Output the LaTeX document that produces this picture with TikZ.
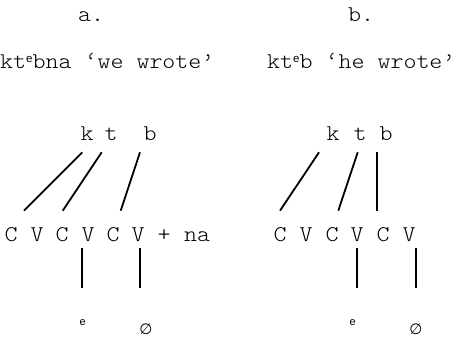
\documentclass[tikz,border=0pt]{standalone}
\usepackage{fontspec}
\newfontfamily\mono[FakeStretch=1.1]{lmmonolt10-regular.otf}
\newfontfamily\sansf{Liberation Sans}
\newfontfamily\dejavu{DejaVu Sans}
\newcommand{\supe}{{\sansf\fontsize{11.5}{13}\selectfont\raisebox{6pt}{e}}}
\begin{document}
\begin{tikzpicture}[x=1pt,y=-1pt,
  txt/.style={font=\mono\fontsize{22.5}{26}\selectfont, inner sep=0pt, anchor=base},
  small/.style={font=\sansf\fontsize{11}{13}\selectfont, inner sep=0pt, anchor=base},
  nul/.style={font=\dejavu\fontsize{15}{17}\selectfont, inner sep=0pt, anchor=base},
  link/.style={line width=1.8pt}]
\useasboundingbox (0,0) rectangle (458,338);
% headings
\node[txt] (la) at (91,21) {a.};
\node[txt] (lb) at (361,21) {b.};
\node[txt, anchor=base west] (ga) at (0,68.3) {kt\supe bna ‘we wrote’};
\node[txt, anchor=base west] (gb) at (267,68.3) {kt\supe b ‘he wrote’};
% roots
\node[txt] (ka) at (87,140.7) {k};
\node[txt] (ta) at (111,140.7) {t};
\node[txt] (ba) at (150,140.7) {b};
\node[txt] (kb) at (333,140.7) {k};
\node[txt] (tb) at (360,140.7) {t};
\node[txt] (bb) at (386,140.7) {b};
% skeleton a
\node[txt] (a1) at (11,241) {C};
\node[txt] (a2) at (37,241) {V};
\node[txt] (a3) at (62,241) {C};
\node[txt] (a4) at (88,241) {V};
\node[txt] (a5) at (113,241) {C};
\node[txt] (a6) at (138,241) {V};
\node[txt] (ap) at (164,241) {+};
\node[txt] (an) at (197,241) {na};
% skeleton b
\node[txt] (b1) at (280,241) {C};
\node[txt] (b2) at (306,241) {V};
\node[txt] (b3) at (332,241) {C};
\node[txt] (b4) at (357,241) {V};
\node[txt] (b5) at (383,241) {C};
\node[txt] (b6) at (409,241) {V};
% melody
\node[small] (ea) at (82.7,325.7) {e};
\node[nul] (za) at (146,334) {∅};
\node[small] (eb) at (352.7,325.7) {e};
\node[nul] (zb) at (416,334) {∅};
% association line ends
\coordinate (ka1) at (82.3,152.3); \coordinate (ka2) at (24,210.7);
\coordinate (ta1) at (101.7,152.3); \coordinate (ta2) at (62.7,210.7);
\coordinate (ba1) at (140,152.3); \coordinate (ba2) at (120.7,210.7);
\coordinate (kb1) at (319,152.3); \coordinate (kb2) at (280,210.7);
\coordinate (tb1) at (357.7,152.3); \coordinate (tb2) at (338.3,210.7);
\coordinate (bb1) at (377,152.3); \coordinate (bb2) at (377,210.7);
\coordinate (va1) at (82,248.3); \coordinate (va2) at (82,287.7);
\coordinate (wa1) at (140,248.3); \coordinate (wa2) at (140,287.7);
\coordinate (vb1) at (357,248.3); \coordinate (vb2) at (357,287.7);
\coordinate (wb1) at (416,248.3); \coordinate (wb2) at (416,287.7);
\foreach \s in {ka,ta,ba,kb,tb,bb,va,wa,vb,wb}
  \draw[link] (\s1) -- (\s2);
\end{tikzpicture}
\end{document}
